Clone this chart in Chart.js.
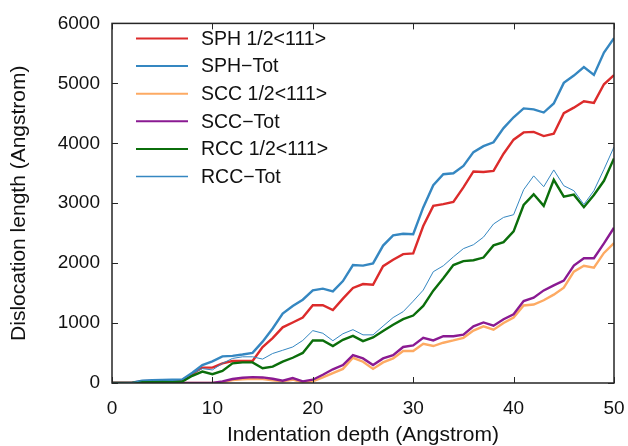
<!DOCTYPE html>
<html>
<head>
<meta charset="utf-8">
<script src="https://cdn.jsdelivr.net/npm/chart.js@4/dist/chart.umd.min.js"></script>
<style>
  body { margin: 0; background: #fff; }
  #wrap { width: 628px; height: 446px; }
</style>
</head>
<body>
<div id="wrap"><canvas id="chart"></canvas></div>
<script>
// indentation depth (Angstrom)
const depth = [0,1,2,3,4,5,6,7,8,9,10,11,12,13,14,15,16,17,18,19,20,21,22,23,24,25,
  26,27,28,29,30,31,32,33,34,35,36,37,38,39,40,41,42,43,44,45,46,47,48,49,50];

const sphHalf = [0,0,5,30,35,40,40,50,150,257,257,328,366,366,366,601,748,929,1010,1092,
  1298,1300,1218,1408,1585,1651,1640,1950,2057,2151,2162,2620,2955,2985,3021,3264,3530,
  3520,3540,3826,4060,4181,4190,4120,4159,4503,4594,4700,4673,4984,5135];
const sphTot = [0,0,5,40,45,50,55,60,170,300,360,445,453,475,502,690,910,1160,1285,1390,
  1545,1575,1530,1700,1967,1958,1995,2293,2463,2490,2483,2930,3300,3484,3500,3621,3852,
  3951,4016,4253,4434,4582,4566,4513,4665,5008,5130,5272,5140,5513,5755];
const sccHalf = [0,0,0,0,0,0,0,0,0,0,0,10,50,60,70,65,44,27,55,11,
  27,93,164,235,421,355,235,344,410,535,535,655,617,672,710,754,874,
  945,890,1000,1092,1294,1310,1381,1474,1590,1857,1956,1923,2170,2335];
const sccTot = [0,0,0,0,0,0,0,0,0,0,0,27,66,87,98,93,71,38,82,27,
  55,137,229,300,464,410,300,410,464,601,628,754,710,781,781,808,945,
  1010,956,1065,1147,1368,1423,1545,1630,1709,1961,2082,2082,2329,2590];
const rccHalf = [0,0,0,20,20,20,15,25,120,191,147,202,328,344,344,246,273,355,421,502,
  710,710,615,720,787,698,760,868,972,1065,1126,1285,1540,1747,1967,2033,2049,
  2093,2296,2351,2530,2970,3148,2955,3390,3110,3143,2934,3137,3374,3747];
const rccTot = [0,0,5,40,42,45,48,55,160,240,218,328,410,437,437,399,492,546,601,710,
  874,830,705,822,890,803,803,950,1092,1190,1365,1550,1857,1956,2104,2242,2307,
  2434,2653,2763,2808,3225,3456,3275,3555,3291,3209,2978,3209,3565,3939];

const seriesNames = ["SPH 1/2<111>", "SPH\u2212Tot", "SCC 1/2<111>", "SCC\u2212Tot", "RCC 1/2<111>", "RCC\u2212Tot"];
const seriesData = [sphHalf, sphTot, sccHalf, sccTot, rccHalf, rccTot];
const seriesColors = ["#dc2b2b", "#3587c1", "#fdaa63", "#8a1a92", "#0b6e0b", "#3587c1"];
const seriesWidths = [2.4, 2.4, 2.4, 2.4, 2.4, 1];

const FONT = "'Liberation Sans', Arial, sans-serif";

// frame, inward ticks and legend like the original
const framePlugin = {
  id: "frame",
  afterDraw(chart) {
    const ctx = chart.ctx;
    const a = chart.chartArea;
    const xs = chart.scales.x, ys = chart.scales.y;
    ctx.save();
    ctx.strokeStyle = "#262626";
    ctx.lineWidth = 1.5;
    ctx.strokeRect(a.left, a.top, a.right - a.left, a.bottom - a.top);
    ctx.lineWidth = 1;
    ctx.beginPath();
    xs.ticks.forEach(t => {
      const px = Math.round(xs.getPixelForValue(t.value)) + 0.5;
      ctx.moveTo(px, a.bottom); ctx.lineTo(px, a.bottom - 6);
      ctx.moveTo(px, a.top); ctx.lineTo(px, a.top + 6);
    });
    ys.ticks.forEach(t => {
      const py = Math.round(ys.getPixelForValue(t.value)) + 0.5;
      ctx.moveTo(a.left, py); ctx.lineTo(a.left + 6, py);
      ctx.moveTo(a.right, py); ctx.lineTo(a.right - 6, py);
    });
    ctx.stroke();

    // legend
    ctx.font = "19.5px " + FONT;
    ctx.textBaseline = "middle";
    ctx.fillStyle = "#111";
    chart.data.datasets.forEach((ds, i) => {
      const y = 38.5 + i * 27.6;
      ctx.strokeStyle = ds.borderColor;
      ctx.lineWidth = i === 5 ? 1.6 : 2;
      ctx.beginPath();
      ctx.moveTo(136, y); ctx.lineTo(188, y);
      ctx.stroke();
      ctx.fillText(ds.label, 201, y + 1);
    });
    ctx.restore();
  }
};

const datasets = seriesNames.map((name, i) => ({
  label: name,
  data: depth.map((d, j) => ({ x: d, y: seriesData[i][j] })),
  borderColor: seriesColors[i],
  backgroundColor: seriesColors[i],
  borderWidth: seriesWidths[i],
  pointRadius: 0,
  tension: 0,
  order: 5 - i
}));

new Chart(document.getElementById("chart"), {
  type: "line",
  data: { datasets },
  options: {
    responsive: true,
    maintainAspectRatio: false,
    animation: false,
    layout: { padding: { top: 19, right: 14, left: 0, bottom: 0 } },
    plugins: { legend: { display: false }, tooltip: { enabled: false } },
    scales: {
      x: {
        type: "linear",
        min: 0, max: 50,
        grid: { display: false, drawTicks: false },
        border: { display: false },
        ticks: { stepSize: 10, padding: 14, color: "#111", font: { family: FONT, size: 19 },
                 callback: v => String(v) },
        title: { display: true, text: "Indentation depth (Angstrom)", color: "#111",
                 font: { family: FONT, size: 21 }, padding: { top: 0, bottom: -2 } },
        afterFit: s => { s.height = 63; s.paddingRight = 0; s.paddingLeft = 0; }
      },
      y: {
        min: 0, max: 6000,
        grid: { display: false, drawTicks: false },
        border: { display: false },
        ticks: { stepSize: 1000, padding: 12, color: "#111", font: { family: FONT, size: 19 },
                 callback: v => String(v) },
        title: { display: true, text: "Dislocation length (Angstrom)", color: "#111",
                 font: { family: FONT, size: 21 }, padding: { top: 7, bottom: 0 } },
        afterFit: s => { s.width = 112; }
      }
    }
  },
  plugins: [framePlugin]
});
</script>
</body>
</html>
